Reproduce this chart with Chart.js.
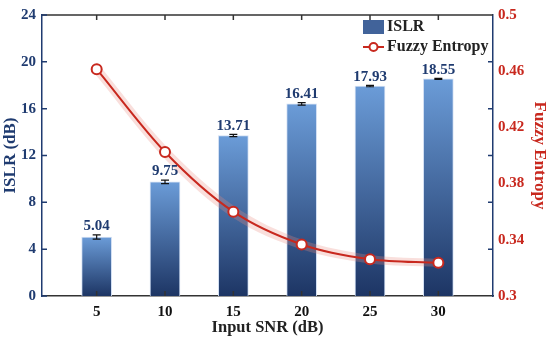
<!DOCTYPE html>
<html>
<head>
<meta charset="utf-8">
<script src="https://cdn.jsdelivr.net/npm/chart.js@4.4.1/dist/chart.umd.min.js"></script>
<style>
  html, body { margin: 0; padding: 0; background: #fff; }
  #wrap { width: 550px; height: 340px; }
</style>
</head>
<body>
<div id="wrap"><canvas id="myChart"></canvas></div>
<script>
const snr = [5, 10, 15, 20, 25, 30];
const islr = [5.04, 9.75, 13.71, 16.41, 17.93, 18.55];
const islrErr = [0.18, 0.15, 0.1, 0.1, 0.06, 0.05];
const entropy = [0.4614, 0.4025, 0.36, 0.3367, 0.3262, 0.3236];
const entropyUpper = [0.4665, 0.4075, 0.3645, 0.3402, 0.3292, 0.3264];
const entropyLower = [0.4565, 0.3975, 0.3555, 0.3332, 0.3232, 0.3208];
const islrTicks = [0, 4, 8, 12, 16, 20, 24];
const entropyTicks = [0.3, 0.34, 0.38, 0.42, 0.46, 0.5];
const entropyTickLabels = ["0.3", "0.34", "0.38", "0.42", "0.46", "0.5"];

const NAVY = "#1f3b70";
const RED = "#c8281e";
const FONT = "'Liberation Serif', 'Times New Roman', serif";

const barColor = (c) => {
  const chart = c.chart;
  const y = chart.scales.y;
  if (!chart.chartArea || !y || c.raw === undefined) return "#4a6fa8";
  const top = y.getPixelForValue(c.raw.y);
  const bottom = y.getPixelForValue(0);
  const g = chart.ctx.createLinearGradient(0, top, 0, bottom);
  g.addColorStop(0, "#6b9cd8");
  g.addColorStop(1, "#1d3564");
  return g;
};

const framePlugin = {
  id: "frame",
  afterDatasetsDraw(chart) {
    const { ctx, chartArea: a, scales } = chart;
    const y = scales.y;
    const x = scales.x;
    ctx.save();
    // error bars and value labels
    ctx.strokeStyle = "#111";
    ctx.lineWidth = 1.2;
    ctx.fillStyle = NAVY;
    ctx.font = "bold 15px " + FONT;
    ctx.textAlign = "center";
    ctx.textBaseline = "bottom";
    snr.forEach((s, i) => {
      const px = x.getPixelForValue(s);
      const hi = y.getPixelForValue(islr[i] + islrErr[i]);
      const lo = y.getPixelForValue(islr[i] - islrErr[i]);
      ctx.beginPath();
      ctx.moveTo(px, hi); ctx.lineTo(px, lo);
      ctx.moveTo(px - 4, hi); ctx.lineTo(px + 4, hi);
      ctx.moveTo(px - 4, lo); ctx.lineTo(px + 4, lo);
      ctx.stroke();
      ctx.fillText(islr[i].toFixed(2), px, hi - 1);
    });
    // top frame and inward category ticks
    ctx.strokeStyle = "#333";
    ctx.lineWidth = 1.5;
    ctx.beginPath();
    ctx.moveTo(a.left, a.top); ctx.lineTo(a.right, a.top);
    snr.forEach((s) => {
      const px = x.getPixelForValue(s);
      ctx.moveTo(px, a.top); ctx.lineTo(px, a.top + 5);
      ctx.moveTo(px, a.bottom); ctx.lineTo(px, a.bottom - 5);
    });
    ctx.stroke();
    // inward ticks on left and right axes
    ctx.strokeStyle = NAVY;
    ctx.beginPath();
    islrTicks.forEach((t) => {
      const py = y.getPixelForValue(t);
      ctx.moveTo(a.left, py); ctx.lineTo(a.left + 5, py);
      if (t > 0 && t < 24) { ctx.moveTo(a.right, py); ctx.lineTo(a.right - 5, py); }
    });
    ctx.stroke();
    // legend
    ctx.fillStyle = "#41639a";
    ctx.fillRect(363, 20, 21, 14);
    ctx.strokeStyle = RED;
    ctx.lineWidth = 2;
    ctx.beginPath();
    ctx.moveTo(363, 47); ctx.lineTo(384, 47);
    ctx.stroke();
    ctx.fillStyle = "#fff";
    ctx.beginPath();
    ctx.arc(373.5, 47, 4, 0, Math.PI * 2);
    ctx.fill(); ctx.stroke();
    ctx.fillStyle = "#222";
    ctx.font = "bold 16px " + FONT;
    ctx.textAlign = "left";
    ctx.textBaseline = "middle";
    ctx.fillText("ISLR", 387, 27);
    ctx.fillText("Fuzzy Entropy", 387, 47);
    ctx.restore();
  },
};

const ctx = document.getElementById("myChart");
const config = {
  data: {
    datasets: [
      {
        type: "line",
        label: "Fuzzy Entropy",
        data: snr.map((s, i) => ({ x: s, y: entropy[i] })),
        yAxisID: "y2",
        borderColor: RED,
        borderWidth: 2,
        pointRadius: 5,
        pointBackgroundColor: "#fff",
        pointBorderColor: RED,
        pointBorderWidth: 2,
        cubicInterpolationMode: "monotone",
        order: 0,
      },
      {
        type: "line",
        label: "upper",
        data: snr.map((s, i) => ({ x: s, y: entropyUpper[i] })),
        yAxisID: "y2",
        borderWidth: 0,
        pointRadius: 0,
        fill: "+1",
        backgroundColor: "rgba(232, 140, 130, 0.28)",
        cubicInterpolationMode: "monotone",
        order: 1,
      },
      {
        type: "line",
        label: "lower",
        data: snr.map((s, i) => ({ x: s, y: entropyLower[i] })),
        yAxisID: "y2",
        borderWidth: 0,
        pointRadius: 0,
        fill: false,
        cubicInterpolationMode: "monotone",
        order: 1,
      },
      {
        type: "bar",
        label: "ISLR",
        data: snr.map((s, i) => ({ x: s, y: islr[i] })),
        yAxisID: "y",
        backgroundColor: barColor,
        borderColor: "rgba(205, 220, 242, 0.9)",
        borderWidth: 1,
        borderSkipped: "bottom",
        barThickness: 30,
        order: 2,
      },
    ],
  },
  options: {
    responsive: true,
    maintainAspectRatio: false,
    animation: false,
    layout: { padding: { top: 11, left: 0, right: 0, bottom: 0 } },
    plugins: { legend: { display: false }, tooltip: { enabled: false } },
    scales: {
      x: {
        type: "linear",
        offset: false,
        min: 1,
        max: 34,
        afterBuildTicks: (s) => { s.ticks = snr.map((v) => ({ value: v })); },
        afterFit: (s) => { s.height = 44; },
        grid: { display: false, drawTicks: false, offset: false },
        border: { color: "#333", width: 1.5 },
        ticks: { color: "#111", padding: 7, font: { family: FONT, size: 15, weight: "bold" } },
        title: {
          display: true,
          text: "Input SNR (dB)",
          color: "#222",
          padding: { top: 0, bottom: 2 },
          font: { family: FONT, size: 16.5, weight: "bold" },
        },
      },
      y: {
        position: "left",
        min: 0,
        max: 24,
        afterBuildTicks: (s) => { s.ticks = islrTicks.map((v) => ({ value: v })); },
        afterFit: (s) => { s.width = 42; },
        grid: { display: false, drawTicks: false },
        border: { color: NAVY, width: 1.5 },
        ticks: { color: NAVY, padding: 6, font: { family: FONT, size: 15, weight: "bold" } },
        title: {
          display: true,
          text: "ISLR (dB)",
          color: NAVY,
          padding: { top: 0, bottom: 2 },
          font: { family: FONT, size: 17, weight: "bold" },
        },
      },
      y2: {
        position: "right",
        min: 0.3,
        max: 0.5,
        afterBuildTicks: (s) => { s.ticks = entropyTicks.map((v) => ({ value: v })); },
        afterFit: (s) => { s.width = 57; },
        grid: { display: false, drawTicks: false },
        border: { color: NAVY, width: 1.5 },
        ticks: {
          color: RED,
          padding: 5,
          callback: (v, i) => entropyTickLabels[i],
          font: { family: FONT, size: 15, weight: "bold" },
        },
        title: {
          display: true,
          text: "Fuzzy Entropy",
          color: RED,
          padding: { top: 0, bottom: 2 },
          font: { family: FONT, size: 17, weight: "bold" },
        },
      },
    },
  },
  plugins: [framePlugin],
};
const myChart = new Chart(ctx, config);
</script>
</body>
</html>
